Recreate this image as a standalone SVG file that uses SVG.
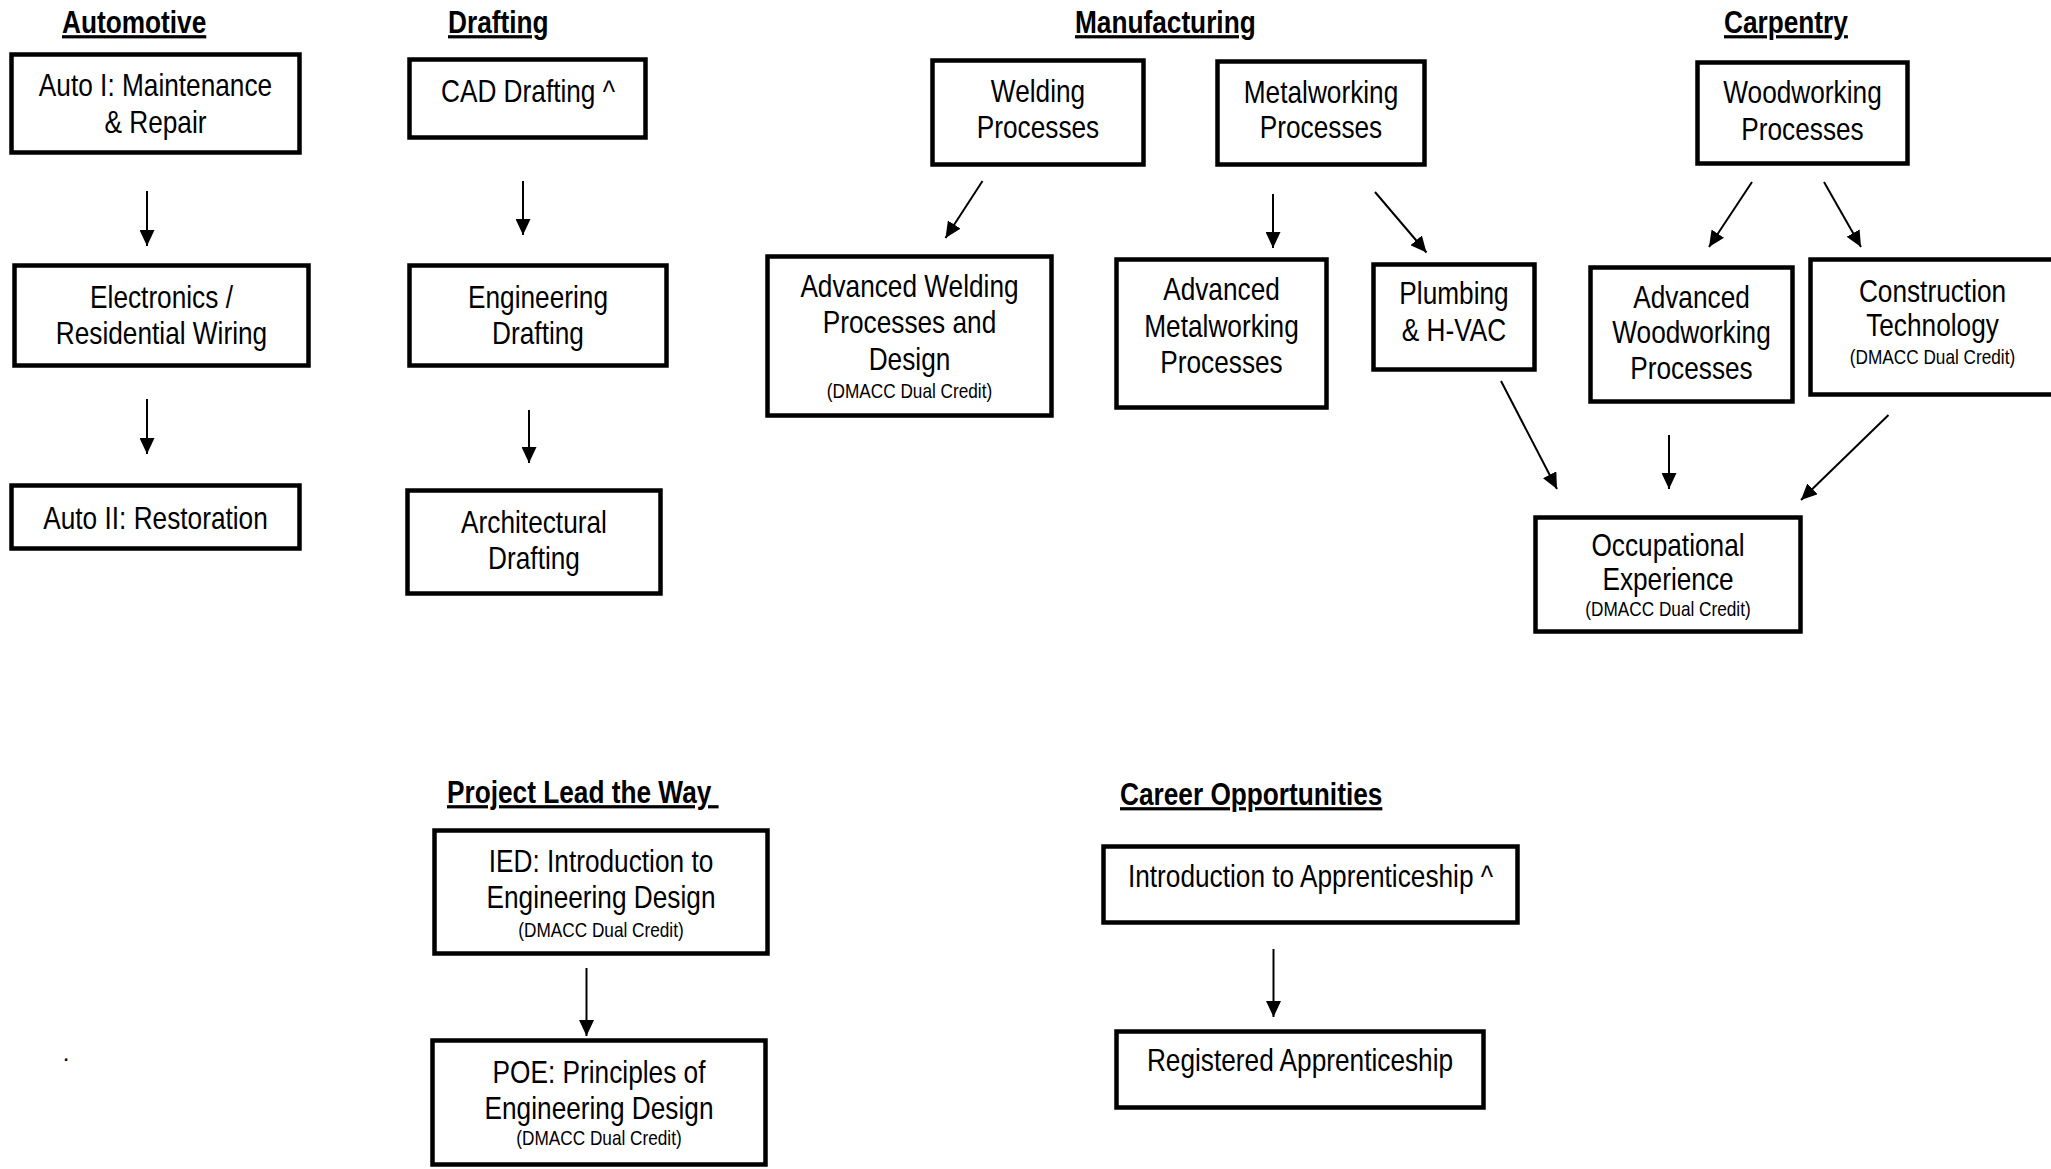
<svg xmlns="http://www.w3.org/2000/svg" width="2051" height="1169" viewBox="0 0 2051 1169">
<style>
text{font-family:"Liberation Sans",Arial,sans-serif;fill:#000}
.t{font-size:32px;text-anchor:middle}
.s{font-size:21px;text-anchor:middle}
.h{font-size:32px;font-weight:bold;text-decoration:underline;white-space:pre}
.box{fill:#fff;stroke:#000;stroke-width:4.5}
.edge{stroke:#000;stroke-width:2;fill:none;marker-end:url(#ah)}
</style>
<defs>
<marker id="ah" markerUnits="userSpaceOnUse" markerWidth="16" markerHeight="15" refX="16" refY="7.5" orient="auto">
<path d="M0,0 L16,7.5 L0,15 z" fill="#000"/>
</marker>
</defs>
<rect width="2051" height="1169" fill="#fff"/>

<g id="titles">
<text class="h" transform="translate(62 0) scale(.82 1)" x="0" y="33">Automotive</text>
<text class="h" transform="translate(448 0) scale(.82 1)" x="0" y="33">Drafting</text>
<text class="h" transform="translate(1075 0) scale(.82 1)" x="0" y="33">Manufacturing</text>
<text class="h" transform="translate(1724 0) scale(.82 1)" x="0" y="33">Carpentry</text>
<text class="h" transform="translate(447 0) scale(.82 1)" x="0" y="803">Project Lead the Way </text>
<text class="h" transform="translate(1120 0) scale(.82 1)" x="0" y="805">Career Opportunities</text>
<text class="t" x="66" y="1061" style="font-size:24px">.</text>
</g>

<g id="connectors">
<line class="edge" x1="147" y1="191" x2="147" y2="246"/>
<line class="edge" x1="147" y1="399" x2="147" y2="454"/>
<line class="edge" x1="523" y1="181" x2="523" y2="235"/>
<line class="edge" x1="529" y1="410" x2="529" y2="463"/>
<line class="edge" x1="982.5" y1="181" x2="945.5" y2="238"/>
<line class="edge" x1="1273" y1="194" x2="1273" y2="248"/>
<line class="edge" x1="1375" y1="192" x2="1426.5" y2="252.5"/>
<line class="edge" x1="1752" y1="182" x2="1709" y2="247"/>
<line class="edge" x1="1824" y1="182" x2="1861" y2="247"/>
<line class="edge" x1="1501" y1="381" x2="1557" y2="489"/>
<line class="edge" x1="1669" y1="435" x2="1669" y2="489"/>
<line class="edge" x1="1888.5" y1="415" x2="1801" y2="500"/>
<line class="edge" x1="586.5" y1="968" x2="586.5" y2="1036"/>
<line class="edge" x1="1273.5" y1="949" x2="1273.5" y2="1017"/>
</g>

<g id="auto1"><rect class="box" x="11.5" y="54.5" width="288" height="98"/>
<text class="t" transform="translate(155.5 0) scale(.82 1)" x="0" y="96">Auto I: Maintenance</text>
<text class="t" transform="translate(155.5 0) scale(.82 1)" x="0" y="133">&amp; Repair</text></g>
<g id="electronics"><rect class="box" x="14.5" y="265.5" width="294" height="100"/>
<text class="t" transform="translate(161.5 0) scale(.82 1)" x="0" y="308">Electronics /</text>
<text class="t" transform="translate(161.5 0) scale(.82 1)" x="0" y="344">Residential Wiring</text></g>
<g id="auto2"><rect class="box" x="11.5" y="485.5" width="288" height="63"/>
<text class="t" transform="translate(155.5 0) scale(.82 1)" x="0" y="529">Auto II: Restoration</text></g>

<g id="cad"><rect class="box" x="409.5" y="59.5" width="236" height="78"/>
<text class="t" transform="translate(528 0) scale(.82 1)" x="0" y="102">CAD Drafting ^</text></g>
<g id="engdraft"><rect class="box" x="409.5" y="265.5" width="257" height="100"/>
<text class="t" transform="translate(538 0) scale(.82 1)" x="0" y="308">Engineering</text>
<text class="t" transform="translate(538 0) scale(.82 1)" x="0" y="344">Drafting</text></g>
<g id="archdraft"><rect class="box" x="407.5" y="490.5" width="253" height="103"/>
<text class="t" transform="translate(534 0) scale(.82 1)" x="0" y="533">Architectural</text>
<text class="t" transform="translate(534 0) scale(.82 1)" x="0" y="569">Drafting</text></g>

<g id="welding"><rect class="box" x="932.5" y="60.5" width="211" height="104"/>
<text class="t" transform="translate(1038 0) scale(.82 1)" x="0" y="102">Welding</text>
<text class="t" transform="translate(1038 0) scale(.82 1)" x="0" y="138">Processes</text></g>
<g id="metal"><rect class="box" x="1217.5" y="61.5" width="207" height="103"/>
<text class="t" transform="translate(1321 0) scale(.82 1)" x="0" y="103">Metalworking</text>
<text class="t" transform="translate(1321 0) scale(.82 1)" x="0" y="138">Processes</text></g>
<g id="advwelding"><rect class="box" x="767.5" y="256.5" width="284" height="159"/>
<text class="t" transform="translate(909.5 0) scale(.82 1)" x="0" y="297">Advanced Welding</text>
<text class="t" transform="translate(909.5 0) scale(.82 1)" x="0" y="333">Processes and</text>
<text class="t" transform="translate(909.5 0) scale(.82 1)" x="0" y="370">Design</text>
<text class="s" transform="translate(909.5 0) scale(.82 1)" x="0" y="398">(DMACC Dual Credit)</text></g>
<g id="advmetal"><rect class="box" x="1116.5" y="259.5" width="210" height="148"/>
<text class="t" transform="translate(1221.5 0) scale(.82 1)" x="0" y="300">Advanced</text>
<text class="t" transform="translate(1221.5 0) scale(.82 1)" x="0" y="337">Metalworking</text>
<text class="t" transform="translate(1221.5 0) scale(.82 1)" x="0" y="373">Processes</text></g>
<g id="plumbing"><rect class="box" x="1373.5" y="264.5" width="161" height="105"/>
<text class="t" transform="translate(1454 0) scale(.82 1)" x="0" y="304.5">Plumbing</text>
<text class="t" transform="translate(1454 0) scale(.82 1)" x="0" y="341">&amp; H-VAC</text></g>

<g id="woodworking"><rect class="box" x="1697.5" y="62.5" width="210" height="101"/>
<text class="t" transform="translate(1802.5 0) scale(.82 1)" x="0" y="103">Woodworking</text>
<text class="t" transform="translate(1802.5 0) scale(.82 1)" x="0" y="140">Processes</text></g>
<g id="advwood"><rect class="box" x="1590.5" y="267.5" width="202" height="134"/>
<text class="t" transform="translate(1691.5 0) scale(.82 1)" x="0" y="308">Advanced</text>
<text class="t" transform="translate(1691.5 0) scale(.82 1)" x="0" y="343">Woodworking</text>
<text class="t" transform="translate(1691.5 0) scale(.82 1)" x="0" y="379">Processes</text></g>
<g id="construction"><rect class="box" x="1810.5" y="259.5" width="248" height="135"/>
<text class="t" transform="translate(1932.5 0) scale(.82 1)" x="0" y="302">Construction</text>
<text class="t" transform="translate(1932.5 0) scale(.82 1)" x="0" y="336">Technology</text>
<text class="s" transform="translate(1932.5 0) scale(.82 1)" x="0" y="364">(DMACC Dual Credit)</text></g>
<g id="occupational"><rect class="box" x="1535.5" y="517.5" width="265" height="114"/>
<text class="t" transform="translate(1668 0) scale(.82 1)" x="0" y="556">Occupational</text>
<text class="t" transform="translate(1668 0) scale(.82 1)" x="0" y="590">Experience</text>
<text class="s" transform="translate(1668 0) scale(.82 1)" x="0" y="616">(DMACC Dual Credit)</text></g>

<g id="ied"><rect class="box" x="434.5" y="830.5" width="333" height="123"/>
<text class="t" transform="translate(601 0) scale(.82 1)" x="0" y="872">IED: Introduction to</text>
<text class="t" transform="translate(601 0) scale(.82 1)" x="0" y="908">Engineering Design</text>
<text class="s" transform="translate(601 0) scale(.82 1)" x="0" y="937">(DMACC Dual Credit)</text></g>
<g id="poe"><rect class="box" x="432.5" y="1040.5" width="333" height="124"/>
<text class="t" transform="translate(599 0) scale(.82 1)" x="0" y="1083">POE: Principles of</text>
<text class="t" transform="translate(599 0) scale(.82 1)" x="0" y="1119">Engineering Design</text>
<text class="s" transform="translate(599 0) scale(.82 1)" x="0" y="1145">(DMACC Dual Credit)</text></g>

<g id="intro"><rect class="box" x="1103.5" y="846.5" width="414" height="76"/>
<text class="t" transform="translate(1310.5 0) scale(.82 1)" x="0" y="887">Introduction to Apprenticeship ^</text></g>
<g id="registered"><rect class="box" x="1116.5" y="1031.5" width="367" height="76"/>
<text class="t" transform="translate(1300 0) scale(.82 1)" x="0" y="1071">Registered Apprenticeship</text></g>
</svg>
